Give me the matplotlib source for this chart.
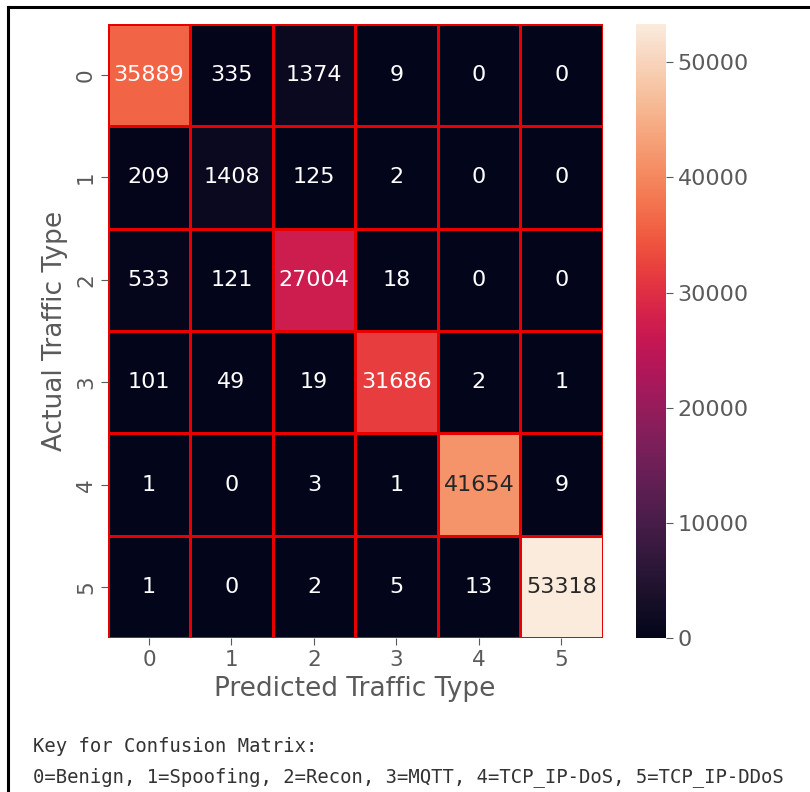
import numpy as np
import matplotlib
matplotlib.use('Agg')
import matplotlib.pyplot as plt
from matplotlib.lines import Line2D
import seaborn as sns

labels = ['0', '1', '2', '3', '4', '5']
row_0 = [35889, 335, 1374, 9, 0, 0]
row_1 = [209, 1408, 125, 2, 0, 0]
row_2 = [533, 121, 27004, 18, 0, 0]
row_3 = [101, 49, 19, 31686, 2, 1]
row_4 = [1, 0, 3, 1, 41654, 9]
row_5 = [1, 0, 2, 5, 13, 53318]
cbar_ticks = [0, 10000, 20000, 30000, 40000, 50000]

cm = np.array([row_0, row_1, row_2, row_3, row_4, row_5])
grey = '#5a5a5a'

fig = plt.figure(figsize=(8.1, 7.92), dpi=100)
ax = fig.add_axes([0.133, 0.194, 0.611, 0.776])
cax = fig.add_axes([0.785, 0.194, 0.037, 0.776])

sns.heatmap(cm, annot=True, fmt='d', cmap='rocket', linewidths=0.8, linecolor='#e80000',
            ax=ax, cbar_ax=cax, annot_kws={'fontsize': 16},
            xticklabels=labels, yticklabels=labels)

ax.set_xlabel('Predicted Traffic Type', fontsize=19, color=grey, labelpad=4)
ax.set_ylabel('Actual Traffic Type', fontsize=19, color=grey, labelpad=6)
ax.tick_params(labelsize=15.5, colors=grey, length=5)
for t in ax.get_xticklabels():
    t.set_color(grey)
for t in ax.get_yticklabels():
    t.set_color(grey)
    t.set_rotation(90)
    t.set_va('center')

cax.set_yticks(cbar_ticks)
cax.tick_params(labelsize=16, colors=grey, length=5)
for t in cax.get_yticklabels():
    t.set_color(grey)

fig.text(0.041, 0.057, 'Key for Confusion Matrix:', family='DejaVu Sans Mono',
         fontsize=13.6, color='#333333', va='center')
fig.text(0.041, 0.019, '0=Benign, 1=Spoofing, 2=Recon, 3=MQTT, 4=TCP_IP-DoS, 5=TCP_IP-DDoS',
         family='DejaVu Sans Mono', fontsize=13.6, color='#333333', va='center')

# screenshot frame: top and left edges only
fig.add_artist(Line2D([0.0099, 1.0], [0.991, 0.991], transform=fig.transFigure,
                      color='black', linewidth=2.2))
fig.add_artist(Line2D([0.0099, 0.0099], [0.0, 0.991], transform=fig.transFigure,
                      color='black', linewidth=2.2))

fig.savefig('out.png', dpi=100)
